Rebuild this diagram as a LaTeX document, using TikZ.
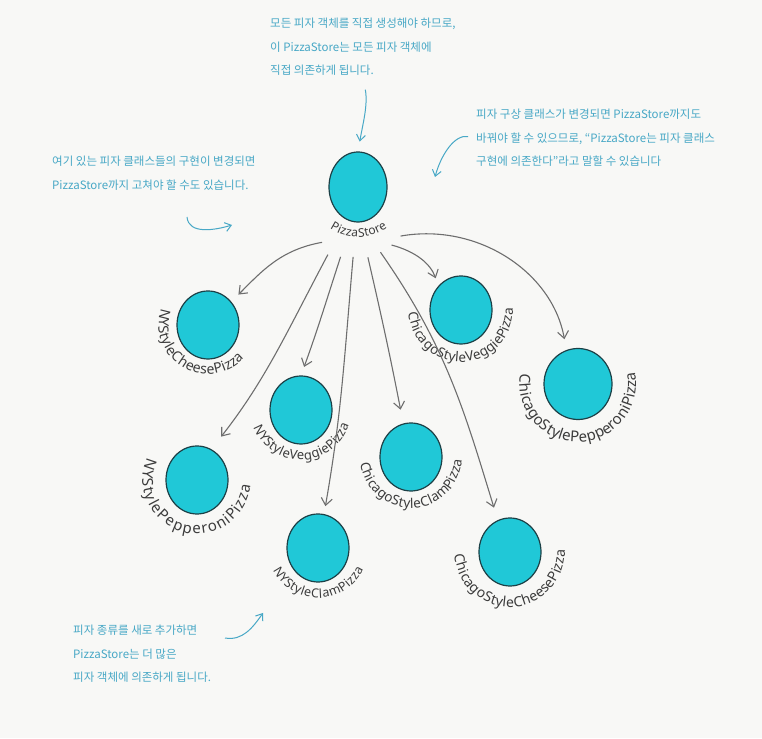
\documentclass[tikz,border=0pt]{standalone}
\usepackage{fontspec}
\setmainfont{Noto Sans}
\newfontfamily\hangul{Noto Sans CJK KR}
\usepackage{tikz}
\usetikzlibrary{shapes.geometric, arrows.meta, decorations.text}

\definecolor{pizzacyan}{RGB}{32,200,215}
\definecolor{pizzaedge}{RGB}{28,64,70}
\definecolor{linkgray}{RGB}{110,110,110}
\definecolor{notecyan}{RGB}{72,168,198}
\definecolor{labelgray}{RGB}{60,60,60}
\definecolor{paper}{RGB}{248,248,246}

\begin{document}
\begin{tikzpicture}[
  x=1pt, y=1pt,
  pizza/.style={ellipse, draw=pizzaedge, line width=1.2pt, fill=pizzacyan,
    minimum width=62pt, minimum height=68pt, inner sep=0pt},
  note/.style={align=left, anchor=north west, inner sep=0pt, text=notecyan,
    font=\hangul\fontsize{11.5}{23.5}\selectfont},
  arrow/.style={-{Straight Barb[length=7pt,width=11pt]}, linkgray, line width=1.1pt},
  notearrow/.style={-{Straight Barb[length=6pt,width=9pt]}, notecyan, line width=1pt},
  curved/.style 2 args={decorate, decoration={text along path, text align={fit to path},
    text color=labelgray, text={|\fontsize{#1}{#1}\selectfont|#2}}}
]

\fill[paper] (0,0) rectangle (762,738);

% the store and its pizzas
\node[pizza, minimum width=58pt, minimum height=70pt] (store) at (358,551) {};
\node[pizza] (nyCheese) at (208,413) {};
\node[pizza] (chVeggie) at (461,428) {};
\node[pizza, minimum width=68pt, minimum height=71pt] (chPepperoni) at (578,354) {};
\node[pizza] (nyVeggie) at (301,328) {};
\node[pizza] (nyPepperoni) at (197,258) {};
\node[pizza] (nyClam) at (318,190) {};
\node[pizza] (chClam) at (411,281) {};
\node[pizza] (chCheese) at (510,186) {};

% curved names under the circles
\path[curved={12}{PizzaStore}] ([shift={(236:50)}]store.center) arc[start angle=236, end angle=306, radius=50pt];
\path[curved={14}{NYStyleCheesePizza}] ([shift={(160:49)}]nyCheese.center) arc[start angle=160, end angle=318, radius=49pt];
\path[curved={13.5}{ChicagoStyleVeggiePizza}] ([shift={(183:52)}]chVeggie.center) arc[start angle=183, end angle=362, radius=52pt];
\path[curved={15}{ChicagoStylePepperoniPizza}] ([shift={(170:58)}]chPepperoni.center) arc[start angle=170, end angle=372, radius=58pt];
\path[curved={13}{NYStyleVeggiePizza}] ([shift={(200:50)}]nyVeggie.center) arc[start angle=200, end angle=343, radius=50pt];
\path[curved={15}{NYStylePepperoniPizza}] ([shift={(155:54)}]nyPepperoni.center) arc[start angle=155, end angle=354, radius=54pt];
\path[curved={12.5}{NYStyleClamPizza}] ([shift={(206:50)}]nyClam.center) arc[start angle=206, end angle=335, radius=50pt];
\path[curved={13.5}{ChicagoStyleClamPizza}] ([shift={(187:51)}]chClam.center) arc[start angle=187, end angle=357, radius=51pt];
\path[curved={14}{ChicagoStyleCheesePizza}] ([shift={(183:55)}]chCheese.center) arc[start angle=183, end angle=362, radius=55pt];

% dependencies
\draw[arrow, shorten >=10pt] ([shift={(237:66)}]store.center) to[out=190, in=45] (nyCheese.45);
\draw[arrow, shorten >=16pt] ([shift={(246:74)}]store.center) to[out=242, in=52] (nyPepperoni.65);
\draw[arrow, shorten >=9pt] ([shift={(256:72)}]store.center) to[out=252, in=70] (nyVeggie.90);
\draw[arrow, shorten >=8pt] ([shift={(266:70)}]store.center) to[out=265, in=80] (nyClam.80);
\draw[arrow, shorten >=14pt] ([shift={(278:71)}]store.center) to[out=283, in=101] (chClam.103);
\draw[arrow, shorten >=13pt] ([shift={(289:69)}]store.center) to[out=305, in=107] (chCheese.111);
\draw[arrow, shorten >=8pt] ([shift={(300:67)}]store.center) to[out=345, in=110] (chVeggie.133);
\draw[arrow, shorten >=11pt] ([shift={(311:65)}]store.center) to[out=10, in=100] (chPepperoni.109);

% notes
\node[note] (noteTop) at (270,720) {모든 피자 객체를 직접 생성해야 하므로,\\이 PizzaStore는 모든 피자 객체에\\직접 의존하게 됩니다.};
\node[note] (noteRight) at (476,629) {피자 구상 클래스가 변경되면 PizzaStore까지도\\바꿔야 할 수 있으므로, “PizzaStore는 피자 클래스\\구현에 의존한다”라고 말할 수 있습니다};
\node[note] (noteLeft) at (52,582) {여기 있는 피자 클래스들의 구현이 변경되면\\PizzaStore까지 고쳐야 할 수도 있습니다.};
\node[note] (noteBottom) at (73,113) {피자 종류를 새로 추가하면\\PizzaStore는 더 많은\\피자 객체에 의존하게 됩니다.};

\coordinate (rightTip) at (435,561);
\coordinate (leftFrom) at (187,521);
\coordinate (leftTip) at (232,513);
\coordinate (bottomFrom) at (225,100);
\coordinate (bottomTip) at (263,125);

\draw[notearrow, shorten <=14pt, shorten >=10pt] (noteTop.south) to[out=-80, in=80] (store.north);
\draw[notearrow, shorten <=8pt] (noteRight.west) to[out=170, in=75] (rightTip);
\draw[notearrow] (leftFrom) to[out=275, in=197] (leftTip);
\draw[notearrow] (bottomFrom) to[out=-10, in=235] (bottomTip);

\end{tikzpicture}
\end{document}
